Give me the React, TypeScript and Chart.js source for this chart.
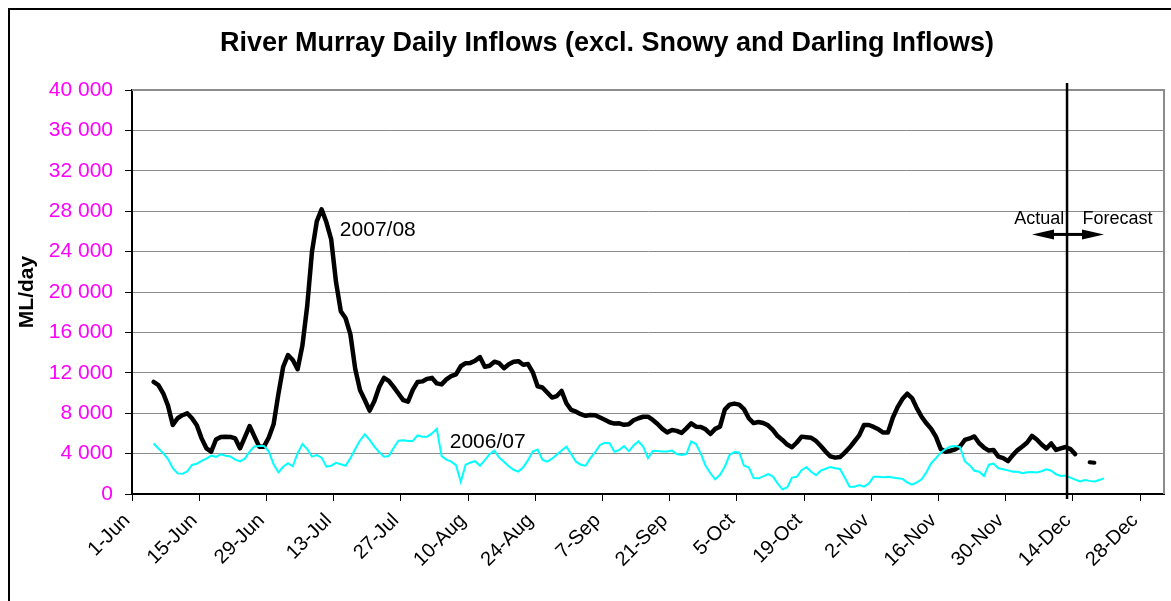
import React, { useEffect, useRef } from 'react';
import { Chart, registerables } from 'chart.js';

Chart.register(...registerables);

// Day index 0 = 1-Jun (category axis: each daily value sits in the middle of its day)
const seriesStartDay = 4;

// 2007/08 daily inflows (ML/day), from day index 4 (5-Jun) to 196 (14-Dec)
const inflows0708 = [
  11100, 10790, 9970, 8750, 6830, 7500, 7800, 7990, 7500, 6800,
  5510, 4520, 4190, 5400, 5650, 5680, 5650, 5500, 4520, 5600,
  6730, 5700, 4690, 4690, 5600, 6900, 9900, 12600, 13760, 13270,
  12350, 14700, 18600, 24000, 27000, 28190, 26900, 25200, 21000, 18100,
  17400, 15800, 12400, 10300, 9310, 8250, 9200, 10600, 11500, 11200,
  10600, 9950, 9300, 9140, 10300, 11100, 11150, 11400, 11500, 10950,
  10850, 11350, 11680, 11850, 12650, 12950, 12980, 13200, 13550, 12600,
  12700, 13100, 12950, 12450, 12850, 13100, 13150, 12800, 12870, 12050,
  10670, 10550, 10050, 9550, 9700, 10200, 8980, 8320, 8150, 7900,
  7740, 7830, 7800, 7570, 7350, 7100, 6970, 7000, 6850, 6900,
  7300, 7500, 7650, 7650, 7330, 6930, 6450, 6100, 6330, 6250,
  6050, 6500, 7000, 6670, 6640, 6400, 5940, 6450, 6670, 8350,
  8850, 8950, 8850, 8400, 7500, 7020, 7130, 7030, 6800, 6350,
  5740, 5350, 4900, 4630, 5100, 5680, 5620, 5560, 5250, 4750,
  4200, 3730, 3600, 3660, 4100, 4600, 5200, 5800, 6830, 6830,
  6640, 6400, 6080, 6100, 7550, 8600, 9400, 9930, 9500, 8500,
  7650, 7000, 6450, 5650, 4450, 4190, 4280, 4420, 4700, 5350,
  5500, 5700, 5020, 4600, 4300, 4350, 3700, 3550, 3250, 3850,
  4350, 4700, 5100, 5750, 5400, 4900, 4500, 5000, 4360, 4520,
  4650, 4450, 3950,
];

// 2006/07 daily inflows (ML/day), from day index 4 to 202
const inflows0607 = [
  5000, 4500, 4050, 3450, 2550, 2040, 2000, 2230, 2880, 3000,
  3270, 3500, 3800, 3680, 3930, 3790, 3710, 3400, 3230, 3500,
  4200, 4700, 4750, 4750, 4200, 2950, 2150, 2700, 3050, 2750,
  4030, 4950, 4450, 3700, 3860, 3600, 2700, 2800, 3080, 2950,
  2800, 3550, 4450, 5300, 5900, 5350, 4700, 4150, 3700, 3760,
  4550, 5280, 5320, 5250, 5250, 5800, 5680, 5680, 6000, 6450,
  3750, 3400, 3200, 2850, 1200, 2900, 3120, 3250, 2800, 3350,
  3950, 4300, 3600, 3200, 2750, 2400, 2220, 2650, 3350, 4200,
  4400, 3400, 3200, 3500, 3900, 4300, 4690, 3950, 3200, 2900,
  2800, 3550, 4150, 4850, 5080, 5020, 4190, 4350, 4750, 4250,
  4800, 5200, 4700, 3550, 4260, 4260, 4220, 4200, 4300, 3950,
  3870, 3960, 5200, 4950, 4000, 2800, 2050, 1450, 1900, 2700,
  3860, 4150, 4120, 2800, 2640, 1580, 1550, 1740, 1960, 1750,
  1060, 470, 650, 1620, 1700, 2350, 2650, 2200, 1850, 2310,
  2500, 2680, 2550, 2480, 1600, 730, 730, 880, 730, 1030,
  1700, 1700, 1670, 1710, 1630, 1570, 1500, 1150, 920, 1150,
  1450, 2150, 3050, 3550, 4100, 4450, 4700, 4750, 4650, 3250,
  2850, 2300, 2210, 1780, 2900, 3000, 2550, 2450, 2340, 2210,
  2210, 2050, 2150, 2180, 2120, 2250, 2450, 2300, 1950, 1780,
  1820, 1620, 1420, 1250, 1390, 1300, 1230, 1390, 1550,
];

// 2007/08 forecast (short dash after the actual/forecast split)
const forecastDays0708 = [199, 200];
const forecast0708 = [3150, 3100];

const tickDays = [0, 14, 28, 42, 56, 70, 84, 98, 112, 126, 140, 154, 168, 182, 196, 210];
const tickLabels = [
  '1-Jun', '15-Jun', '29-Jun', '13-Jul', '27-Jul', '10-Aug', '24-Aug', '7-Sep',
  '21-Sep', '5-Oct', '19-Oct', '2-Nov', '16-Nov', '30-Nov', '14-Dec', '28-Dec',
];
const yTickValues = [0, 4000, 8000, 12000, 16000, 20000, 24000, 28000, 32000, 36000, 40000];
const axisEndDay = 215;

// Actual / Forecast split and arrow
const splitDay = 194.8;
const arrowFromDay = 187.5;
const arrowToDay = 202.5;
const arrowValue = 25700;

const FONT = '"Liberation Sans", Arial, sans-serif';

const formatThousands = (v: number) =>
  String(Math.round(v)).replace(/\B(?=(\d{3})+(?!\d))/g, ' ');

const decorPlugin = {
  id: 'decor',
  afterDraw(chart: any) {
    const { ctx, chartArea, scales } = chart;
    const xs = scales.x;
    const ys = scales.y;
    ctx.save();

    // outer chart border (left and top visible)
    ctx.strokeStyle = '#000';
    ctx.lineWidth = 2;
    ctx.beginPath();
    ctx.moveTo(1, chart.height + 5);
    ctx.lineTo(1, 1);
    ctx.lineTo(chart.width + 5, 1);
    ctx.stroke();

    // plot frame top & right (gray)
    ctx.strokeStyle = '#8c8c8c';
    ctx.lineWidth = 2;
    ctx.beginPath();
    ctx.moveTo(chartArea.left, chartArea.top);
    ctx.lineTo(chartArea.right, chartArea.top);
    ctx.lineTo(chartArea.right, chartArea.bottom);
    ctx.stroke();

    // Title
    ctx.fillStyle = '#000';
    ctx.font = `bold 27px ${FONT}`;
    ctx.textAlign = 'center';
    ctx.textBaseline = 'middle';
    ctx.fillText('River Murray Daily Inflows (excl. Snowy and Darling Inflows)', 599, 36);

    // split line
    const sx = xs.getPixelForValue(splitDay);
    ctx.strokeStyle = '#000';
    ctx.lineWidth = 2.5;
    ctx.beginPath();
    ctx.moveTo(sx, chartArea.top - 7);
    ctx.lineTo(sx, chartArea.bottom + 5);
    ctx.stroke();

    // double arrow
    const ax1 = xs.getPixelForValue(arrowFromDay);
    const ax2 = xs.getPixelForValue(arrowToDay);
    const ay = ys.getPixelForValue(arrowValue);
    const head = 22;
    ctx.lineWidth = 3;
    ctx.beginPath();
    ctx.moveTo(ax1 + head - 2, ay);
    ctx.lineTo(ax2 - head + 2, ay);
    ctx.stroke();
    ctx.beginPath();
    ctx.moveTo(ax1, ay);
    ctx.lineTo(ax1 + head, ay - 5);
    ctx.lineTo(ax1 + head, ay + 5);
    ctx.closePath();
    ctx.fill();
    ctx.beginPath();
    ctx.moveTo(ax2, ay);
    ctx.lineTo(ax2 - head, ay - 5);
    ctx.lineTo(ax2 - head, ay + 5);
    ctx.closePath();
    ctx.fill();

    // labels
    ctx.textBaseline = 'middle';
    ctx.font = `21px ${FONT}`;
    ctx.textAlign = 'left';
    ctx.fillText('2007/08', xs.getPixelForValue(43.3), ys.getPixelForValue(26100));
    ctx.fillText('2006/07', xs.getPixelForValue(66.2), ys.getPixelForValue(5100));
    ctx.font = `18px ${FONT}`;
    ctx.textAlign = 'right';
    ctx.fillText('Actual', xs.getPixelForValue(194.2), ys.getPixelForValue(27260));
    ctx.textAlign = 'left';
    ctx.fillText('Forecast', xs.getPixelForValue(198), ys.getPixelForValue(27260));

    ctx.restore();
  },
};

export default function App() {
  const canvasRef = useRef<HTMLCanvasElement | null>(null);

  useEffect(() => {
    const canvas = canvasRef.current;
    if (!canvas) return;
    const toPoints = (vals: number[], start: number) =>
      vals.map((v, i) => ({ x: start + i + 0.5, y: v }));

    const chart = new Chart(canvas, {
      type: 'line',
      data: {
        datasets: [
          {
            label: '2006/07',
            data: toPoints(inflows0607, seriesStartDay),
            borderColor: '#00FFFF',
            borderWidth: 2,
            pointRadius: 0,
            tension: 0,
            order: 0,
          },
          {
            label: '2007/08',
            data: toPoints(inflows0708, seriesStartDay),
            borderColor: '#000000',
            borderWidth: 4.5,
            pointRadius: 0,
            tension: 0,
            borderJoinStyle: 'round',
            borderCapStyle: 'round',
            order: 1,
          },
          {
            label: '2007/08 forecast',
            data: forecastDays0708.map((d, i) => ({ x: d + 0.5, y: forecast0708[i] })),
            borderColor: '#000000',
            borderWidth: 4,
            pointRadius: 0,
            borderCapStyle: 'round',
            order: 1,
          },
        ],
      } as any,
      options: {
        animation: false,
        responsive: true,
        maintainAspectRatio: false,
        layout: { padding: { top: 82, right: 7, left: 0, bottom: 0 } },
        plugins: {
          legend: { display: false },
          tooltip: { enabled: false },
          title: { display: false },
        },
        scales: {
          x: {
            type: 'linear',
            min: 0,
            max: axisEndDay,
            afterBuildTicks: (s: any) => {
              s.ticks = tickDays.map((v) => ({ value: v }));
            },
            afterFit: (s: any) => {
              s.height = 107;
            },
            ticks: {
              autoSkip: false,
              maxRotation: 45,
              minRotation: 45,
              padding: 8,
              labelOffset: -5,
              color: '#000',
              font: { family: FONT, size: 20 },
              callback: (v: any) => {
                const i = tickDays.indexOf(Number(v));
                return i >= 0 ? tickLabels[i] : '';
              },
            },
            grid: {
              drawOnChartArea: false,
              drawTicks: true,
              tickLength: 7,
              tickColor: '#000',
              color: '#000',
            },
            border: { display: true, color: '#000', width: 2 },
          },
          y: {
            min: 0,
            max: 40000,
            afterBuildTicks: (s: any) => {
              s.ticks = yTickValues.map((v) => ({ value: v }));
            },
            afterFit: (s: any) => {
              s.width = 124;
            },
            ticks: {
              color: '#FF00FF',
              padding: 12,
              font: { family: FONT, size: 21 },
              callback: (v: any) => formatThousands(Number(v)),
            },
            grid: {
              color: '#8c8c8c',
              lineWidth: 1,
              tickLength: 7,
              tickColor: '#000',
            },
            border: { display: true, color: '#000', width: 2 },
            title: {
              display: true,
              text: 'ML/day',
              color: '#000',
              font: { family: FONT, size: 21, weight: 'bold' },
              padding: { top: 7, bottom: 0 },
            },
          },
        },
      } as any,
      plugins: [decorPlugin],
    });
    return () => chart.destroy();
  }, []);

  return (
    <div
      style={{
        position: 'fixed',
        left: 8,
        top: 8,
        width: 1163,
        height: 593,
        background: '#fff',
      }}
    >
      <canvas ref={canvasRef} />
    </div>
  );
}
